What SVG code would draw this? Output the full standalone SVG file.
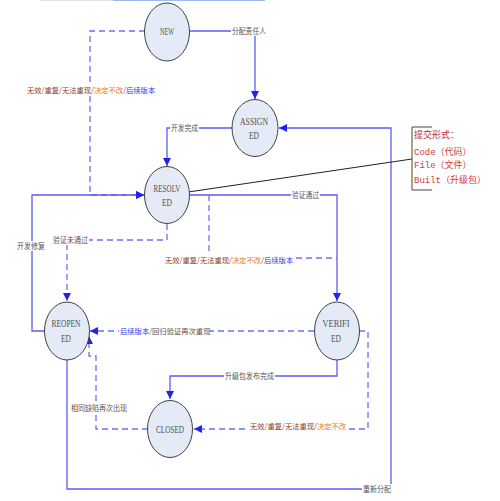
<svg xmlns="http://www.w3.org/2000/svg" width="500" height="501" viewBox="0 0 500 501">
<defs>
<style>
.node{fill:#E4EBF6;stroke:#404040;stroke-width:1}
.nt{font-family:"Liberation Serif",serif;font-size:11px;fill:#555;text-anchor:middle}
.s{fill:none;stroke:#5C5CF6;stroke-width:1.3}
.d{fill:none;stroke:#6E6EF8;stroke-width:1.3;stroke-dasharray:6,4}
.bg{fill:#fff}
.l{font-family:"Noto Sans CJK SC",sans-serif;font-size:8px;fill:#555}
.m{font-family:"Noto Sans CJK SC",sans-serif;font-size:7.3px;fill:#8B3A2A}
.or{fill:#F07818}
.bl{fill:#3535F0}
.gr{fill:#555}
.note{font-family:"Liberation Mono","Noto Sans CJK SC",monospace;font-size:9px;fill:#D23A3A}
</style>
<marker id="a" markerUnits="userSpaceOnUse" markerWidth="9" markerHeight="8" refX="8" refY="4" orient="auto">
<path d="M0,0 L8,4 L0,8 Z" fill="#2222EE"/>
</marker>
</defs>
<rect width="500" height="501" fill="#fff"/>
<line x1="40" y1="0.5" x2="113" y2="0.5" stroke="#E2E2E2" stroke-width="1"/>
<line x1="113" y1="0.5" x2="265" y2="0.5" stroke="#9DBBE8" stroke-width="1.2"/>

<g id="connectors">
<path class="s" d="M190,31 H255 V99" marker-end="url(#a)"/>
<path class="d" d="M145,31 H90 V195 H144" marker-end="url(#a)"/>
<path class="s" d="M232,128 H167 V166" marker-end="url(#a)"/>
<path class="s" d="M67,360 V489 H391 V128 H279" marker-end="url(#a)"/>
<path class="s" d="M190,195 H337 V301" marker-end="url(#a)"/>
<path class="d" d="M167,224 V240 H67 V301" marker-end="url(#a)"/>
<path class="s" d="M44,331 H32 V195 H144" marker-end="url(#a)"/>
<path class="d" d="M209,195 V258 H337"/>
<path class="d" d="M314,331 H90" marker-end="url(#a)"/>
<path class="s" d="M337,360 V376 H170 V399" marker-end="url(#a)"/>
<path class="d" d="M359,331 H368 V429 H194" marker-end="url(#a)"/>
<path class="d" d="M148,429 H96 V356 H89 V336" marker-end="url(#a)"/>
<line x1="412" y1="159" x2="168" y2="195" stroke="#222" stroke-width="1"/>
<path d="M432,127 H412 V190 H432" fill="none" stroke="#444" stroke-width="1"/>

<rect class="bg" x="231" y="26" width="36" height="10"/>
<rect class="bg" x="26" y="85" width="129" height="10"/>
<rect class="bg" x="170" y="123" width="29" height="10"/>
<rect class="bg" x="362" y="484" width="30" height="10"/>
<rect class="bg" x="291" y="190" width="29" height="10"/>
<rect class="bg" x="52" y="235" width="37" height="10"/>
<rect class="bg" x="16" y="241" width="30" height="10"/>
<rect class="bg" x="164" y="255" width="129" height="10"/>
<rect class="bg" x="119" y="326" width="90" height="10"/>
<rect class="bg" x="224" y="371" width="51" height="10"/>
<rect class="bg" x="249" y="421" width="97" height="10"/>
<rect class="bg" x="70" y="403" width="58" height="10"/>

<text class="l" x="232" y="34" textLength="34" lengthAdjust="spacingAndGlyphs">分配责任人</text>
<text class="m" x="27" y="93">无效/重复/无法重现/<tspan class="or">决定不改</tspan>/<tspan class="bl">后续版本</tspan></text>
<text class="l" x="171" y="131" textLength="27" lengthAdjust="spacingAndGlyphs">开发完成</text>
<text class="l" x="363" y="492" textLength="28" lengthAdjust="spacingAndGlyphs">重新分配</text>
<text class="l" x="292" y="198" textLength="27" lengthAdjust="spacingAndGlyphs">验证通过</text>
<text class="l" x="53" y="243" textLength="35" lengthAdjust="spacingAndGlyphs">验证未通过</text>
<text class="l" x="17" y="249" textLength="28" lengthAdjust="spacingAndGlyphs">开发修复</text>
<text class="m" x="165" y="263">无效/重复/无法重现/<tspan class="or">决定不改</tspan>/<tspan class="bl">后续版本</tspan></text>
<text class="m" x="120" y="334"><tspan class="bl">后续版本</tspan><tspan class="gr">/回归验证再次重现</tspan></text>
<text class="l" x="225" y="379" textLength="49" lengthAdjust="spacingAndGlyphs">升级包发布完成</text>
<text class="m" x="250" y="429">无效/重复/无法重现/<tspan class="or">决定不改</tspan></text>
<text class="l" x="71" y="411" textLength="56" lengthAdjust="spacingAndGlyphs">相同缺陷再次出现</text>
</g>

<g id="note">
<text class="note" x="414" y="138" style="fill:#C0272D">提交形式：</text>
<text class="note" x="414" y="155">Code（代码）</text>
<text class="note" x="414" y="168">File（文件）</text>
<text class="note" x="414" y="183">Built（升级包）</text>
</g>

<g id="NEW"><ellipse class="node" cx="167" cy="32" rx="22.5" ry="29"/><text class="nt" x="167" y="35" textLength="14" lengthAdjust="spacingAndGlyphs">NEW</text></g>
<g id="ASSIGNED"><ellipse class="node" cx="255" cy="128" rx="23" ry="28.5"/><text class="nt" x="254" y="125" textLength="28" lengthAdjust="spacingAndGlyphs">ASSIGN</text><text class="nt" x="254" y="139" textLength="10" lengthAdjust="spacingAndGlyphs">ED</text></g>
<g id="RESOLVED"><ellipse class="node" cx="167" cy="195" rx="22.5" ry="28.5"/><text class="nt" x="167" y="192" textLength="27" lengthAdjust="spacingAndGlyphs">RESOLV</text><text class="nt" x="167" y="206" textLength="10" lengthAdjust="spacingAndGlyphs">ED</text></g>
<g id="REOPENED"><ellipse class="node" cx="67" cy="331" rx="22.5" ry="29"/><text class="nt" x="66" y="327" textLength="29" lengthAdjust="spacingAndGlyphs">REOPEN</text><text class="nt" x="66" y="342" textLength="10" lengthAdjust="spacingAndGlyphs">ED</text></g>
<g id="VERIFIED"><ellipse class="node" cx="337" cy="331" rx="22.5" ry="29"/><text class="nt" x="336" y="327" textLength="27" lengthAdjust="spacingAndGlyphs">VERIFI</text><text class="nt" x="336" y="342" textLength="10" lengthAdjust="spacingAndGlyphs">ED</text></g>
<g id="CLOSED"><ellipse class="node" cx="170" cy="429" rx="22.5" ry="28.5"/><text class="nt" x="170" y="433" textLength="28" lengthAdjust="spacingAndGlyphs">CLOSED</text></g>
</svg>
